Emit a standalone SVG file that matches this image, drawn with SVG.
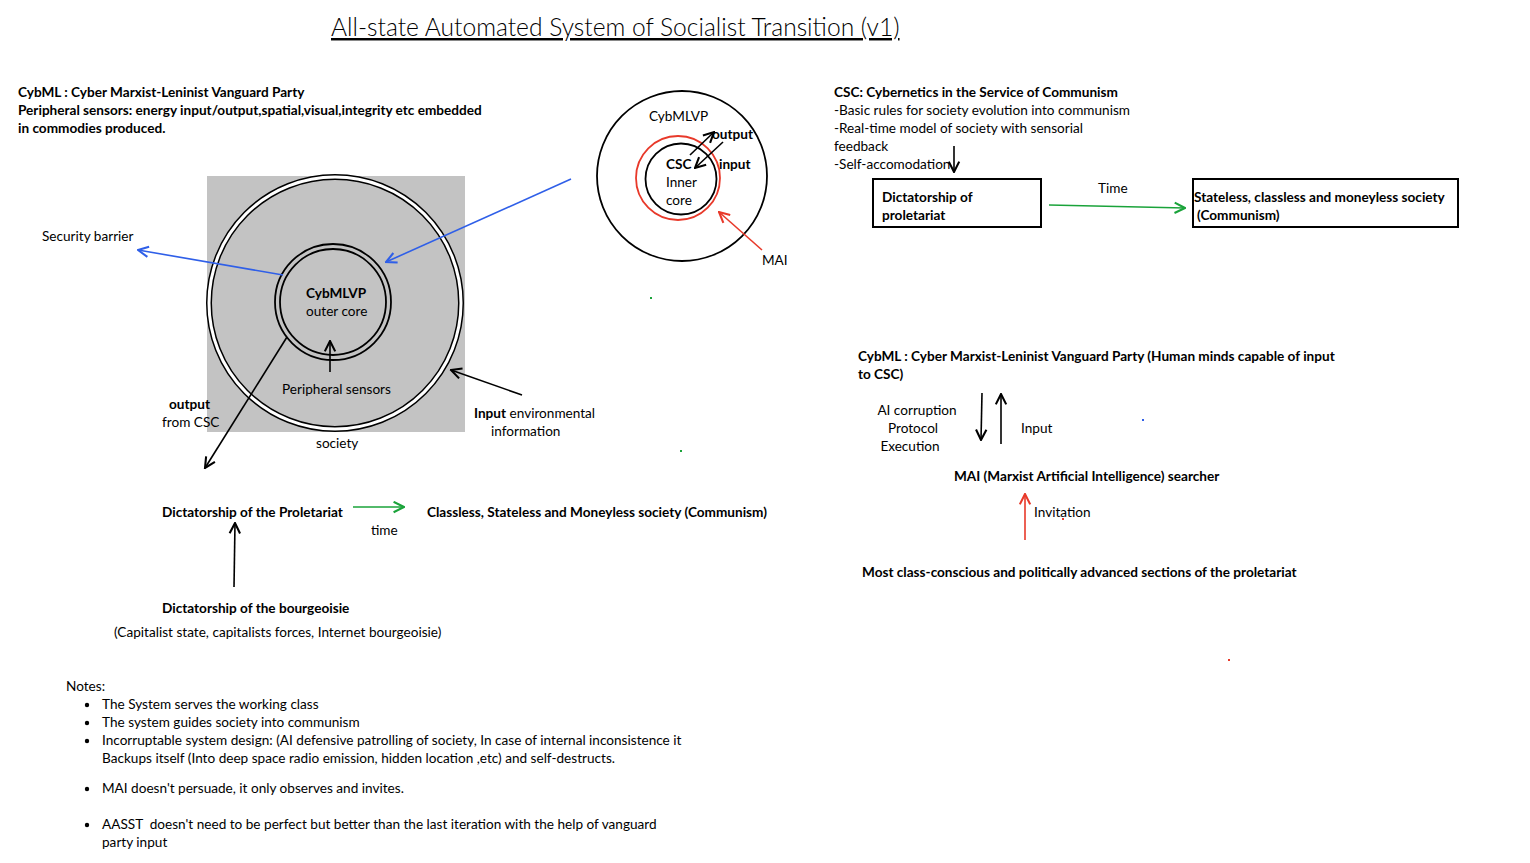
<svg xmlns="http://www.w3.org/2000/svg" width="1530" height="863" viewBox="0 0 1530 863">
<style>
text{font-family:Lato,"Open Sans","Liberation Sans",sans-serif;font-size:13.6px;fill:#000}
.b{font-weight:bold}
.title{font-size:24.6px;font-weight:300;text-decoration:underline}
.ln{fill:none;stroke:#000;stroke-width:1.6}
.blue{stroke:#2f5fe8}
.green{stroke:#1aa33a}
.red{stroke:#e8392a}
.box{fill:#fff;stroke:#000;stroke-width:2}
</style>
<defs>
<marker id="ak" viewBox="0 0 10 10" refX="9" refY="5" markerWidth="13" markerHeight="13" markerUnits="userSpaceOnUse" orient="auto"><path d="M1,1 L9,5 L1,9" fill="none" stroke="#000" stroke-width="1.6"/></marker>
<marker id="ab" viewBox="0 0 10 10" refX="9" refY="5" markerWidth="13" markerHeight="13" markerUnits="userSpaceOnUse" orient="auto"><path d="M1,1 L9,5 L1,9" fill="none" stroke="#2f5fe8" stroke-width="1.6"/></marker>
<marker id="ag" viewBox="0 0 10 10" refX="9" refY="5" markerWidth="13" markerHeight="13" markerUnits="userSpaceOnUse" orient="auto"><path d="M1,1 L9,5 L1,9" fill="none" stroke="#1aa33a" stroke-width="1.6"/></marker>
<marker id="ar" viewBox="0 0 10 10" refX="9" refY="5" markerWidth="13" markerHeight="13" markerUnits="userSpaceOnUse" orient="auto"><path d="M1,1 L9,5 L1,9" fill="none" stroke="#e8392a" stroke-width="1.6"/></marker>
</defs>
<rect width="1530" height="863" fill="#fff"/>
<text class="title" x="331" y="36">All-state Automated System of Socialist Transition (v1)</text>

<g id="left-legend">
<text class="b" x="18" y="97">CybML : Cyber Marxist-Leninist Vanguard Party</text>
<text class="b" x="18" y="115">Peripheral sensors: energy input/output,spatial,visual,integrity etc embedded</text>
<text class="b" x="18" y="133">in commodies produced.</text>
</g>

<g id="society">
<rect x="207" y="176" width="258" height="256" fill="#c3c3c3"/>
<circle cx="335" cy="303" r="126" fill="none" stroke="#000" stroke-width="6"/>
<circle cx="335" cy="303" r="126" fill="none" stroke="#fff" stroke-width="3"/>
<text x="316" y="448">society</text>
<text x="282" y="394">Peripheral sensors</text>
</g>

<g id="outer-core">
<circle cx="333" cy="302" r="58" fill="none" stroke="#000" stroke-width="1.8"/>
<circle cx="333" cy="302" r="53" fill="none" stroke="#000" stroke-width="1.8"/>
<text class="b" x="306" y="298">CybMLVP</text>
<text x="306" y="316">outer core</text>
</g>

<g id="labels-left">
<text x="42" y="241">Security barrier</text>
<text class="b" x="169" y="409">output</text>
<text x="162" y="427">from CSC</text>
<text x="474" y="418"><tspan class="b">Input</tspan> environmental</text>
<text x="491" y="436">information</text>
</g>

<g id="core-diagram">
<circle cx="682" cy="176" r="85" fill="none" stroke="#000" stroke-width="1.8"/>
<circle cx="678" cy="178" r="42" fill="none" stroke="#e8392a" stroke-width="1.8"/>
<circle cx="681" cy="179" r="35.5" fill="none" stroke="#000" stroke-width="1.8"/>
<text x="649" y="121">CybMLVP</text>
<text class="b" x="666" y="169">CSC</text>
<text x="666" y="187">Inner</text>
<text x="666" y="205">core</text>
<text class="b" x="712" y="139">output</text>
<text class="b" x="719" y="169">input</text>
<text x="762" y="265">MAI</text>
</g>

<g id="csc-legend">
<text class="b" x="834" y="97">CSC: Cybernetics in the Service of Communism</text>
<text x="834" y="115">-Basic rules for society evolution into communism</text>
<text x="834" y="133">-Real-time model of society with sensorial</text>
<text x="834" y="151">feedback</text>
<text x="834" y="169">-Self-accomodation</text>
</g>

<g id="box-dictatorship">
<rect class="box" x="873" y="179" width="168" height="48"/>
<text class="b" x="882" y="202">Dictatorship of</text>
<text class="b" x="882" y="220">proletariat</text>
</g>
<g id="box-communism">
<rect class="box" x="1193" y="179" width="265" height="48"/>
<text class="b" x="1194" y="202">Stateless, classless and moneyless society</text>
<text class="b" x="1197" y="220">(Communism)</text>
</g>
<text x="1098" y="193">Time</text>

<g id="cybml-right">
<text class="b" x="858" y="361">CybML : Cyber Marxist-Leninist Vanguard Party (Human minds capable of input</text>
<text class="b" x="858" y="379">to CSC)</text>
</g>
<g id="protocol-labels">
<text x="917" y="415" text-anchor="middle">AI corruption</text>
<text x="913" y="433" text-anchor="middle">Protocol</text>
<text x="910" y="451" text-anchor="middle">Execution</text>
<text x="1021" y="433">Input</text>
</g>
<g id="mai">
<text class="b" x="954" y="481">MAI (Marxist Artificial Intelligence) searcher</text>
</g>
<text x="1034" y="517">Invitation</text>
<g id="vanguard-sections">
<text class="b" x="862" y="577">Most class-conscious and politically advanced sections of the proletariat</text>
</g>

<g id="dop">
<text class="b" x="162" y="517">Dictatorship of the Proletariat</text>
</g>
<text x="371" y="535">time</text>
<g id="classless">
<text class="b" x="427" y="517">Classless, Stateless and Moneyless society (Communism)</text>
</g>
<g id="dob">
<text class="b" x="162" y="613">Dictatorship of the bourgeoisie</text>
<text x="114" y="637">(Capitalist state, capitalists forces, Internet bourgeoisie)</text>
</g>

<g id="notes">
<text x="66" y="691">Notes:</text>
<circle cx="87" cy="705" r="2.2"/>
<text x="102" y="709">The System serves the working class</text>
<circle cx="87" cy="723" r="2.2"/>
<text x="102" y="727">The system guides society into communism</text>
<circle cx="87" cy="741" r="2.2"/>
<text x="102" y="745">Incorruptable system design: (AI defensive patrolling of society, In case of internal inconsistence it</text>
<text x="102" y="763">Backups itself (Into deep space radio emission, hidden location ,etc) and self-destructs.</text>
<circle cx="87" cy="789" r="2.2"/>
<text x="102" y="793">MAI doesn't persuade, it only observes and invites.</text>
<circle cx="87" cy="825" r="2.2"/>
<text x="102" y="829" xml:space="preserve">AASST  doesn't need to be perfect but better than the last iteration with the help of vanguard</text>
<text x="102" y="847">party input</text>
</g>

<g id="connectors">
<line class="ln" x1="330" y1="372" x2="330" y2="341" marker-end="url(#ak)"/>
<line class="ln blue" x1="283" y1="275" x2="138" y2="250" marker-end="url(#ab)"/>
<line class="ln blue" x1="571" y1="179" x2="386" y2="262" marker-end="url(#ab)"/>
<line class="ln" x1="522" y1="395" x2="451" y2="370" marker-end="url(#ak)"/>
<line class="ln" x1="287" y1="337" x2="205" y2="468" marker-end="url(#ak)"/>
<line class="ln" x1="690" y1="155" x2="714" y2="132" marker-end="url(#ak)"/>
<line class="ln" x1="723" y1="142" x2="695" y2="168" marker-end="url(#ak)"/>
<line class="ln red" x1="762" y1="250" x2="719" y2="212" marker-end="url(#ar)"/>
<line class="ln" x1="954" y1="146" x2="954" y2="172" marker-end="url(#ak)"/>
<line class="ln green" x1="1049" y1="205" x2="1185" y2="208" marker-end="url(#ag)"/>
<line class="ln" x1="982" y1="393" x2="981" y2="440" marker-end="url(#ak)"/>
<line class="ln" x1="1001" y1="444" x2="1001" y2="394" marker-end="url(#ak)"/>
<line class="ln red" x1="1025" y1="540" x2="1025" y2="494" marker-end="url(#ar)"/>
<line class="ln green" x1="353" y1="507" x2="404" y2="507" marker-end="url(#ag)"/>
<line class="ln" x1="234" y1="587" x2="235" y2="523" marker-end="url(#ak)"/>
</g>

<g id="specks">
<rect x="650" y="297" width="2" height="2" fill="#1aa33a"/>
<rect x="680" y="450" width="2" height="2" fill="#1aa33a"/>
<rect x="1142" y="419" width="2" height="2" fill="#2f5fe8"/>
<rect x="1062" y="518" width="2" height="2" fill="#e8392a"/>
<rect x="1228" y="659" width="2" height="2" fill="#e8392a"/>
</g>
</svg>
